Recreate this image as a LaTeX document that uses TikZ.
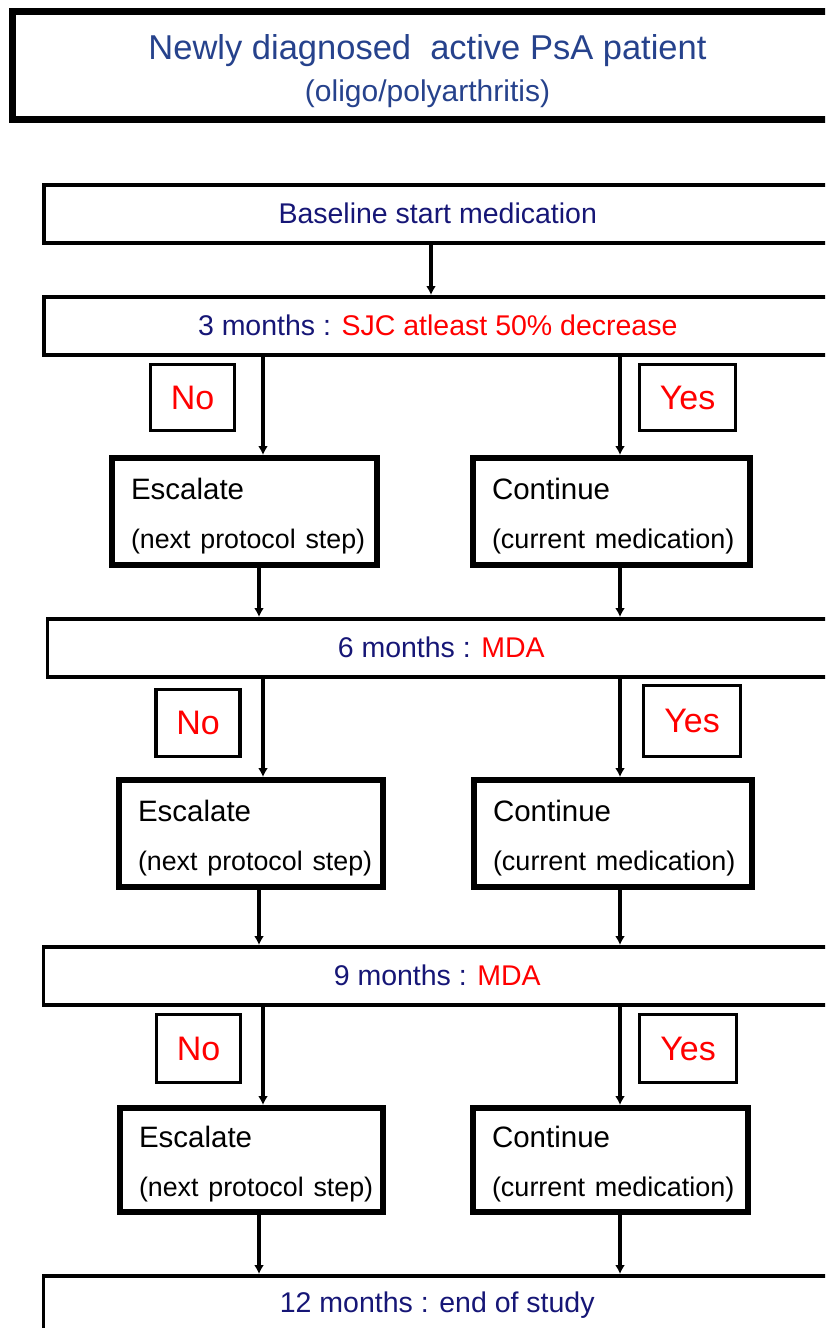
\documentclass[tikz,border=0pt]{standalone}
\usepackage{fontspec}
\setmainfont{Liberation Sans}
\usetikzlibrary{arrows.meta}
\definecolor{titleblue}{RGB}{38,66,140}
\definecolor{navyblue}{RGB}{22,22,118}
\definecolor{answerred}{RGB}{255,0,0}
\begin{document}
\begin{tikzpicture}[x=1pt,y=-1pt,
    topbox/.style={draw, line width=7pt, anchor=north west, minimum width=830pt, minimum height=108pt, inner sep=0pt, align=center, text=titleblue, font=\fontsize{34.5}{42}\selectfont},
    widebox/.style={draw, line width=3.5pt, anchor=north west, minimum width=788pt, minimum height=58pt, inner sep=0pt, text=navyblue, font=\fontsize{28.5}{34}\selectfont},
    answerbox/.style={draw, line width=3.5pt, minimum width=84pt, minimum height=66pt, inner sep=0pt, text=answerred, font=\fontsize{34}{40}\selectfont},
    actionbox/.style={draw, line width=6pt, minimum height=107pt, inner xsep=19pt, inner ysep=0pt, align=left, font=\fontsize{29.5}{35}\selectfont},
    flow/.style={line width=3.5pt, -{Latex[length=9pt,width=10pt]}}]

    % Rahmen und Zuschnitt
    \useasboundingbox (0,0) rectangle (825,1328);
    \clip (0,0) rectangle (825,1328);

    % Spalten der Verbindungen
    \coordinate (colM) at (431,0);
    \coordinate (colA) at (263,0);
    \coordinate (colB) at (259,0);
    \coordinate (colR) at (620,0);

    % Kopf
    \node[topbox] (patient) at (9,7.5) {\rule{0pt}{37pt}Newly diagnosed\ \ active PsA patient\\
        {\fontsize{30}{36}\selectfont (oligo/polyarthritis)}};

    % Start
    \node[widebox] (base) at (42,183) {Baseline start medication};

    % 3 Monate
    \node[widebox] (m3) at (42,295) {3 months : \textcolor{answerred}{SJC atleast 50\% decrease}};
    \node[answerbox] (no3) at (192.5,397.5) {No};
    \node[answerbox, minimum width=96pt] (yes3) at (687.5,397.5) {Yes};
    \node[actionbox, text width=227pt] (esc3) at (244.5,511.5) {\mbox{\rule{0pt}{30pt}Escalate}\\[14pt]\mbox{\fontsize{26.8}{33}\selectfont(next protocol step)}};
    \node[actionbox, text width=239pt] (cont3) at (611.5,511.5) {\mbox{\rule{0pt}{30pt}Continue}\\[14pt]\mbox{\fontsize{27}{33}\selectfont(current medication)}};

    % 6 Monate
    \node[widebox] (m6) at (45.5,617) {6 months : \textcolor{answerred}{MDA}};
    \node[answerbox, minimum height=67pt] (no6) at (198,723) {No};
    \node[answerbox, minimum width=97pt, minimum height=71pt] (yes6) at (692,721) {Yes};
    \node[actionbox, text width=226pt] (esc6) at (251,833.5) {\mbox{\rule{0pt}{30pt}Escalate}\\[14pt]\mbox{\fontsize{26.8}{33}\selectfont(next protocol step)}};
    \node[actionbox, text width=240pt] (cont6) at (613,833.5) {\mbox{\rule{0pt}{30pt}Continue}\\[14pt]\mbox{\fontsize{27}{33}\selectfont(current medication)}};

    % 9 Monate
    \node[widebox] (m9) at (41.5,945) {9 months : \textcolor{answerred}{MDA}};
    \node[answerbox, minimum height=68pt] (no9) at (198.5,1048.5) {No};
    \node[answerbox, minimum width=97pt, minimum height=68pt] (yes9) at (688,1048.5) {Yes};
    \node[actionbox, text width=225pt, minimum height=104pt] (esc9) at (251.5,1160) {\mbox{\rule{0pt}{30pt}Escalate}\\[14pt]\mbox{\fontsize{26.8}{33}\selectfont(next protocol step)}};
    \node[actionbox, text width=237pt, minimum height=104pt] (cont9) at (610.5,1160) {\mbox{\rule{0pt}{30pt}Continue}\\[14pt]\mbox{\fontsize{27}{33}\selectfont(current medication)}};

    % Ende
    \node[widebox] (m12) at (41.5,1274) {12 months : end of study};

    % Verbindungen
    \draw[flow] (base.south -| colM) -- (m3.north -| colM);

    \draw[flow] (m3.south -| colA) -- (esc3.north -| colA);
    \draw[flow] (m3.south -| colR) -- (cont3.north -| colR);
    \draw[flow] (esc3.south -| colB) -- (m6.north -| colB);
    \draw[flow] (cont3.south -| colR) -- (m6.north -| colR);

    \draw[flow] (m6.south -| colA) -- (esc6.north -| colA);
    \draw[flow] (m6.south -| colR) -- (cont6.north -| colR);
    \draw[flow] (esc6.south -| colB) -- (m9.north -| colB);
    \draw[flow] (cont6.south -| colR) -- (m9.north -| colR);

    \draw[flow] (m9.south -| colA) -- (esc9.north -| colA);
    \draw[flow] (m9.south -| colR) -- (cont9.north -| colR);
    \draw[flow] (esc9.south -| colB) -- (m12.north -| colB);
    \draw[flow] (cont9.south -| colR) -- (m12.north -| colR);

\end{tikzpicture}
\end{document}
